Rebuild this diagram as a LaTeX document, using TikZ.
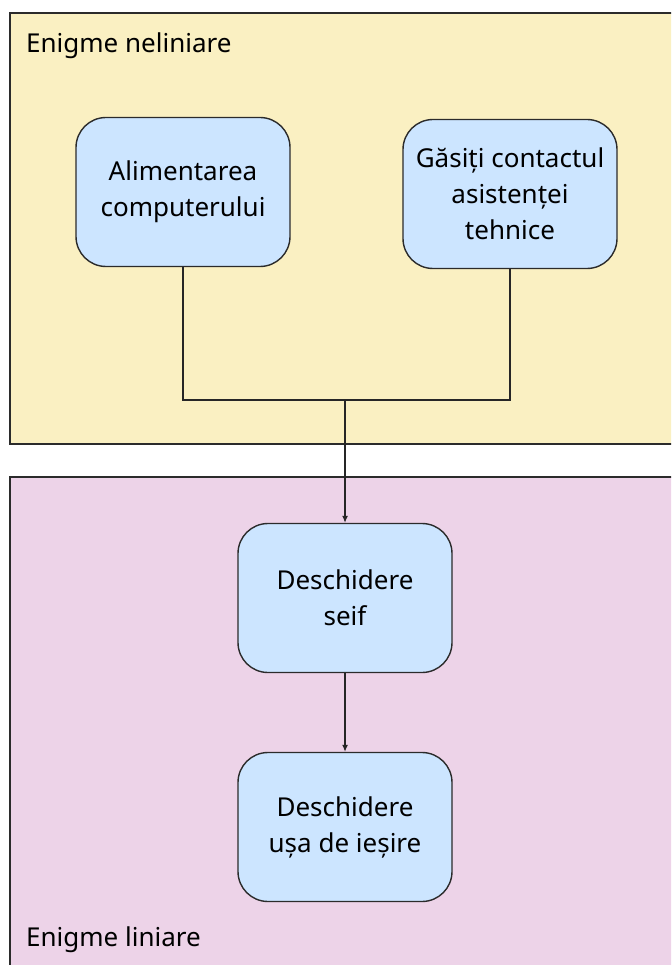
\documentclass[tikz,border=0pt]{standalone}
\usepackage{fontspec}
\setmainfont{Noto Sans}
\usetikzlibrary{arrows.meta}
\definecolor{zonegalben}{HTML}{FAF0C2}
\definecolor{zonaroz}{HTML}{EDD3E8}
\definecolor{pasalbastru}{HTML}{CCE5FF}
\definecolor{contur}{HTML}{2B2B2B}
\tikzset{
  pas/.style={draw=contur,fill=pasalbastru,rounded corners=30pt,line width=1.4pt,
    minimum width=214pt,minimum height=149pt,align=center,
    font=\fontsize{26pt}{36pt}\selectfont},
  zona/.style={draw=contur,line width=2pt},
  eticheta/.style={font=\fontsize{26pt}{32pt}\selectfont,anchor=base west,inner sep=0pt},
  leg/.style={draw=black!85,line width=1.2pt}
}
\begin{document}
\begin{tikzpicture}[x=1pt,y=-1pt]
      \useasboundingbox (0,0) rectangle (671,965);
      \clip (0,0) rectangle (671,965);
      \pgfmathsetmacro{\xs}{183}
      \pgfmathsetmacro{\xd}{510}
      \pgfmathsetmacro{\xm}{345}

      % zone
      \path[zona,fill=zonegalben] (10,13) rectangle (700,444);
      \path[zona,fill=zonaroz] (10,477) rectangle (700,1000);
      \node[eticheta] (neliniare) at (26,53) {Enigme neliniare};
      \node[eticheta] (liniare) at (26,946) {Enigme liniare};

      % enigme
      \node[pas] (alimentare) at (\xs,192) {Alimentarea\\computerului};
      \node[pas] (contact) at (\xd,194) {Găsiți contactul\\asistenței\\tehnice};
      \node[pas] (seif) at (\xm,598) {Deschidere\\seif};
      \node[pas] (usa) at (\xm,827) {Deschidere\\ușa de ieșire};

      \coordinate (unire) at (\xm,400);

      \draw[leg] (alimentare.south) |- (unire);
      \draw[leg] (contact.south) |- (unire);
      \draw[leg,-{Latex[length=7pt,width=6pt]}] (unire) -- (seif.north);
      \draw[leg,-{Latex[length=7pt,width=6pt]}] (seif.south) -- (usa.north);
    \end{tikzpicture}
\end{document}
